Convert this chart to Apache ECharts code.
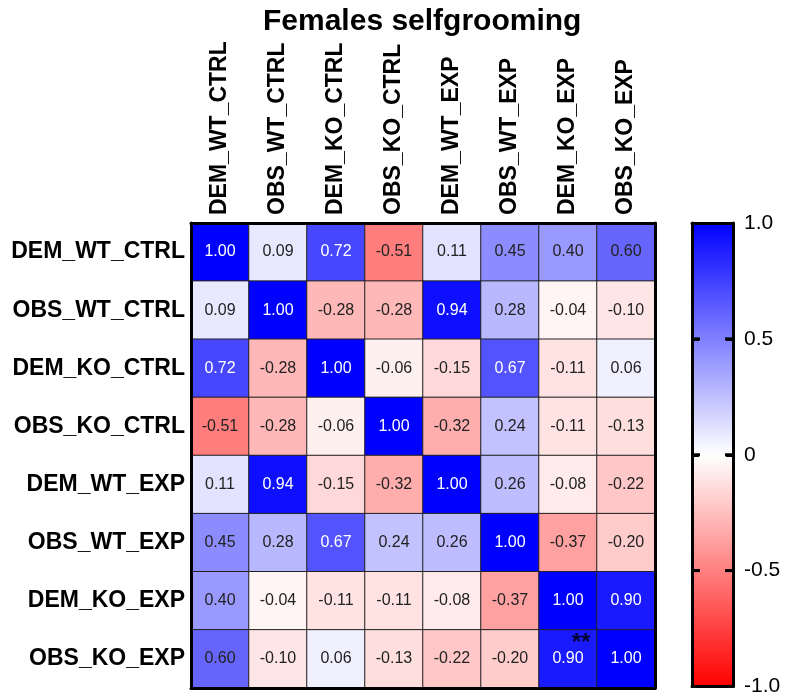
<!DOCTYPE html>
<html>
<head>
<meta charset="utf-8">
<script src="https://cdn.jsdelivr.net/npm/echarts@6/dist/echarts.min.js"></script>
<style>html,body{margin:0;padding:0;background:#fff}#c{width:791px;height:697px}</style>
</head>
<body>
<div id="c"></div>
<script>
var title = 'Females selfgrooming';
var categories = ['DEM_WT_CTRL','OBS_WT_CTRL','DEM_KO_CTRL','OBS_KO_CTRL','DEM_WT_EXP','OBS_WT_EXP','DEM_KO_EXP','OBS_KO_EXP'];
var rowDEM_WT_CTRL = [1.00, 0.09, 0.72, -0.51, 0.11, 0.45, 0.40, 0.60];
var rowOBS_WT_CTRL = [0.09, 1.00, -0.28, -0.28, 0.94, 0.28, -0.04, -0.10];
var rowDEM_KO_CTRL = [0.72, -0.28, 1.00, -0.06, -0.15, 0.67, -0.11, 0.06];
var rowOBS_KO_CTRL = [-0.51, -0.28, -0.06, 1.00, -0.32, 0.24, -0.11, -0.13];
var rowDEM_WT_EXP  = [0.11, 0.94, -0.15, -0.32, 1.00, 0.26, -0.08, -0.22];
var rowOBS_WT_EXP  = [0.45, 0.28, 0.67, 0.24, 0.26, 1.00, -0.37, -0.20];
var rowDEM_KO_EXP  = [0.40, -0.04, -0.11, -0.11, -0.08, -0.37, 1.00, 0.90];
var rowOBS_KO_EXP  = [0.60, -0.10, 0.06, -0.13, -0.22, -0.20, 0.90, 1.00];
var colorbarTicks = [-1.0, -0.5, 0, 0.5, 1.0];
var annotations = [{col: 'DEM_KO_EXP', row: 'OBS_KO_EXP', text: '**'}];

var rows = [rowDEM_WT_CTRL,rowOBS_WT_CTRL,rowDEM_KO_CTRL,rowOBS_KO_CTRL,rowDEM_WT_EXP,rowOBS_WT_EXP,rowDEM_KO_EXP,rowOBS_KO_EXP];
var data = [];
rows.forEach(function(r, i){
  r.forEach(function(v, j){
    data.push({value:[j, i, v], label:{color: v > 0.65 ? '#ffffff' : '#222222'}});
  });
});
var annData = annotations.map(function(a){
  return {value:[categories.indexOf(a.col), categories.indexOf(a.row)], label:{formatter:a.text}};
});
var tickMarks = [];
colorbarTicks.slice(1, -1).forEach(function(t){
  tickMarks.push({value:[0, t], symbolOffset:[4, 0]});
  tickMarks.push({value:[1, t], symbolOffset:[-4, 0]});
});

var FONT = '"Liberation Sans", Arial, sans-serif';
var chart = echarts.init(document.getElementById('c'), null, {renderer:'canvas'});
var lineStyle3 = {color:'#000', width:3};
var axLine = {show:true, onZero:false, lineStyle:lineStyle3};
var cbTick = {show:true, inside:true, length:7, lineStyle:{color:'#000', width:3}};
var rangeColors = ['#ff0000','#ffffff','#0000ff'];
var barFill = new echarts.graphic.LinearGradient(0, 0, 0, 1, [
  {offset:0, color:rangeColors[2]}, {offset:0.5, color:rangeColors[1]}, {offset:1, color:rangeColors[0]}
]);
chart.setOption({
  animation:false,
  backgroundColor:'#fff',
  title:{text:title, left:258, top:2,
    textStyle:{fontFamily:FONT, fontWeight:'bold', fontSize:30, color:'#000'}},
  grid:[
    {left:191, top:223, width:464, height:465},
    {left:692, top:223, width:41, height:465, show:true, backgroundColor:barFill, borderWidth:0}
  ],
  xAxis:[
    {type:'category', data:categories, position:'top', gridIndex:0, z:10,
      axisLine:axLine, axisTick:{show:false}, splitLine:{show:false},
      axisLabel:{rotate:-90, margin:8, fontFamily:FONT, fontWeight:'bold', fontSize:23, color:'#000'}},
    {type:'category', data:categories, position:'bottom', gridIndex:0, z:10,
      axisLine:axLine, axisTick:{show:false}, axisLabel:{show:false}, splitLine:{show:false}},
    {type:'value', min:0, max:1, position:'top', gridIndex:1, zlevel:1, z:10,
      axisLine:axLine, axisTick:{show:false}, axisLabel:{show:false}, splitLine:{show:false}},
    {type:'value', min:0, max:1, position:'bottom', gridIndex:1, zlevel:1, z:10,
      axisLine:axLine, axisTick:{show:false}, axisLabel:{show:false}, splitLine:{show:false}}
  ],
  yAxis:[
    {type:'category', data:categories, inverse:true, position:'left', gridIndex:0, z:10,
      axisLine:axLine, axisTick:{show:false}, splitLine:{show:false},
      axisLabel:{margin:6, fontFamily:FONT, fontWeight:'bold', fontSize:23, color:'#000'}},
    {type:'category', data:categories, inverse:true, position:'right', gridIndex:0, z:10,
      axisLine:axLine, axisTick:{show:false}, axisLabel:{show:false}, splitLine:{show:false}},
    {type:'value', min:-1, max:1, interval:0.5, position:'right', gridIndex:1, zlevel:1, z:10,
      axisLine:axLine, axisTick:cbTick, splitLine:{show:false},
      axisLabel:{margin:11, fontFamily:FONT, fontSize:21, color:'#000',
        formatter:function(v){ return colorbarTicks.indexOf(v) < 0 ? '' : (v === 0 ? '0' : v.toFixed(1)); }}},
    {type:'value', min:-1, max:1, interval:0.5, position:'left', gridIndex:1, zlevel:1, z:10,
      axisLine:axLine, axisTick:cbTick, axisLabel:{show:false}, splitLine:{show:false}}
  ],
  visualMap:{type:'continuous', min:-1, max:1, seriesIndex:0, dimension:2, show:false,
    inRange:{color:rangeColors}},
  series:[
    {type:'heatmap', xAxisIndex:0, yAxisIndex:0, data:data,
      itemStyle:{borderColor:'#222', borderWidth:1},
      label:{show:true, fontFamily:FONT, fontSize:16,
        formatter:function(p){ return p.value[2].toFixed(2); }}},
    {type:'scatter', xAxisIndex:0, yAxisIndex:0, data:annData, symbolSize:0, z:6,
      label:{show:true, position:'inside', offset:[13,-16], fontFamily:FONT, fontWeight:'bold', fontSize:24, color:'#000'}},
    {type:'scatter', xAxisIndex:2, yAxisIndex:2, data:tickMarks, symbol:'rect', symbolSize:[8, 3],
      clip:false, zlevel:1, z:12, silent:true, itemStyle:{color:'#000', opacity:1}}
  ]
});
</script>
</body>
</html>
